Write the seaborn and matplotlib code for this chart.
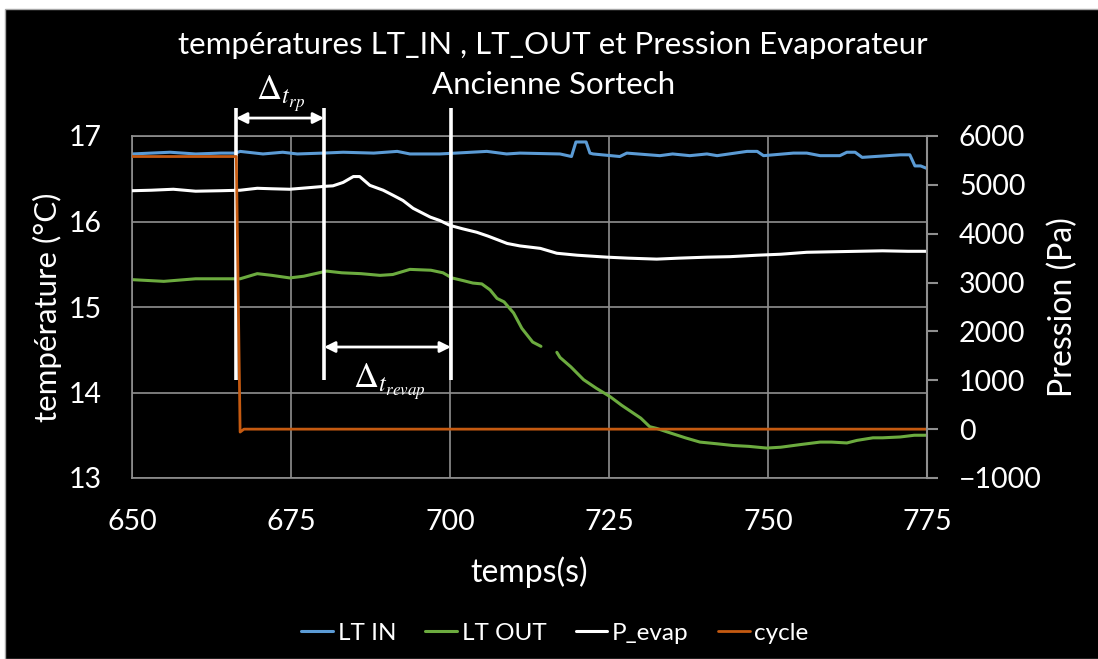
import matplotlib
matplotlib.use("Agg")
import numpy as np
import pandas as pd
import matplotlib.pyplot as plt
import seaborn as sns
from matplotlib.patches import Rectangle

# ---------------- data ----------------
t_lt_in = [650, 653, 656, 660, 664, 666.3, 667, 670.6, 673.7, 676, 680, 683.2, 688, 691.7,
           693.7, 698.4, 705.8, 708.9, 711, 717.3, 719.1, 719.8, 720.3, 721.4, 722.0, 722.5,
           726.7, 727.8, 733, 735, 737.7, 740.4, 742, 746.7, 748.3, 749.3, 754, 756.1, 758.2,
           761.3, 762.4, 763.7, 764.8, 770.8, 772.3, 773.1, 774, 775]
lt_in = [16.79, 16.80, 16.81, 16.79, 16.80, 16.80, 16.82, 16.79, 16.81, 16.79, 16.80, 16.81,
         16.80, 16.82, 16.79, 16.79, 16.82, 16.79, 16.80, 16.79, 16.76, 16.93, 16.93, 16.93,
         16.80, 16.79, 16.76, 16.80, 16.77, 16.79, 16.77, 16.79, 16.77, 16.82, 16.82, 16.77,
         16.80, 16.80, 16.77, 16.77, 16.81, 16.81, 16.75, 16.78, 16.78, 16.65, 16.65, 16.62]

t_lt_out_a = [650, 655, 660, 664, 667, 669.7, 672, 674.8, 677, 680.6, 683, 686, 689, 691,
              693.7, 697, 698.9, 700.3, 702, 703.6, 705, 706.3, 707.4, 708.5, 710, 711.3,
              713, 714.3]
lt_out_a = [15.32, 15.30, 15.33, 15.33, 15.33, 15.39, 15.37, 15.34, 15.36, 15.42, 15.40,
            15.39, 15.37, 15.38, 15.44, 15.43, 15.40, 15.34, 15.31, 15.28, 15.27, 15.20,
            15.10, 15.06, 14.93, 14.75, 14.59, 14.54]
t_lt_out_b = [716.8, 717.3, 719, 721, 723, 725.2, 727, 728.8, 730, 731.4, 732.5, 734.1, 737,
              739.3, 742, 744.5, 747, 749.8, 752, 755, 758.2, 760, 762.4, 764, 766.5, 768,
              770.8, 773, 775]
lt_out_b = [14.47, 14.41, 14.30, 14.15, 14.05, 13.95, 13.85, 13.76, 13.70, 13.60, 13.58,
            13.54, 13.47, 13.42, 13.40, 13.38, 13.37, 13.35, 13.36, 13.39, 13.42, 13.42,
            13.41, 13.44, 13.47, 13.47, 13.48, 13.50, 13.50]

t_p_evap = [650, 653, 656.5, 660, 664, 667, 669.7, 672, 674.8, 678.5, 680.3, 681.6, 683.2,
            684.8, 685.8, 687.4, 689.5, 691, 692.6, 694.2, 696.9, 698.4, 700, 702, 704.2,
            706, 709, 711, 714.2, 716.8, 720, 724.7, 728, 732.5, 736, 740.4, 744, 748.3,
            752, 756.1, 760, 764, 768, 772, 775]
p_evap = [4880, 4890, 4910, 4870, 4880, 4890, 4930, 4920, 4910, 4950, 4970, 4980, 5050,
          5170, 5170, 4990, 4890, 4790, 4680, 4520, 4340, 4270, 4170, 4100, 4030, 3950,
          3800, 3750, 3700, 3600, 3560, 3520, 3500, 3480, 3500, 3520, 3530, 3560, 3580,
          3620, 3630, 3640, 3650, 3640, 3640]

t_cycle = [650, 666.4, 667.0, 667.6, 775]
cycle = [5580, 5580, -60, 0, 0]

x_ticks = [650, 675, 700, 725, 750, 775]
y_ticks_temp = [13, 14, 15, 16, 17]
y_ticks_pres = [-1000, 0, 1000, 2000, 3000, 4000, 5000, 6000]

title_l1 = "températures LT_IN , LT_OUT et Pression Evaporateur"
title_l2 = "Ancienne Sortech"

# annotation markers (time instants)
t_marks = [666.35, 680.2, 700.15]

# ---------------- style ----------------
sns.set_theme(style="dark", rc={
    "axes.facecolor": "black", "figure.facecolor": "white",
    "text.color": "white", "axes.labelcolor": "white",
    "xtick.color": "white", "ytick.color": "white",
})
plt.rcParams['font.family'] = ['Lato', 'DejaVu Sans']
plt.rcParams['mathtext.fontset'] = 'stix'

C_IN, C_OUT, C_P, C_CY = "#5B9BD5", "#6CAB3F", "#FFFFFF", "#C55A11"
GRID = "#8f8f8f"

fig = plt.figure(figsize=(10.98, 6.59), dpi=100, facecolor="white")
fig.patches.append(Rectangle((5 / 1098, 0), 1, 1 - 9 / 659, transform=fig.transFigure,
                             facecolor="black", edgecolor="#a6a6a6", lw=1, zorder=-10))

ax = fig.add_axes([132 / 1098, 1 - 478 / 659, 795 / 1098, 342 / 659])
ax.set_facecolor("black")
ax2 = ax.twinx()
ax2.patch.set_visible(False)

df_in = pd.DataFrame({"t": t_lt_in, "v": lt_in})
df_oa = pd.DataFrame({"t": t_lt_out_a, "v": lt_out_a})
df_ob = pd.DataFrame({"t": t_lt_out_b, "v": lt_out_b})
df_p = pd.DataFrame({"t": t_p_evap, "v": p_evap})
df_c = pd.DataFrame({"t": t_cycle, "v": cycle})

sns.lineplot(data=df_in, x="t", y="v", ax=ax, color=C_IN, lw=2.2, label="LT IN")
sns.lineplot(data=df_oa, x="t", y="v", ax=ax, color=C_OUT, lw=2.2, label="LT OUT")
sns.lineplot(data=df_ob, x="t", y="v", ax=ax, color=C_OUT, lw=2.2)
sns.lineplot(data=df_p, x="t", y="v", ax=ax2, color=C_P, lw=2.2, label="P_evap")
sns.lineplot(data=df_c, x="t", y="v", ax=ax2, color=C_CY, lw=2.0, label="cycle")

for a in (ax, ax2):
    lg = a.get_legend()
    if lg is not None:
        lg.remove()

ax.set_xlim(650, 775)
ax.set_ylim(13, 17)
ax2.set_ylim(-1000, 6000)
ax.set_xticks(x_ticks)
ax.set_yticks(y_ticks_temp)
ax2.set_yticks(y_ticks_pres)

ax.grid(True, color=GRID, lw=1.2)
ax2.grid(False)
for s in ["left", "bottom", "top"]:
    ax.spines[s].set_visible(True)
    ax.spines[s].set_color(GRID)
    ax.spines[s].set_linewidth(1.2)
ax.spines["right"].set_visible(False)
for s in ["left", "bottom", "top"]:
    ax2.spines[s].set_visible(False)
ax2.spines["right"].set_visible(True)
ax2.spines["right"].set_color(GRID)
ax2.spines["right"].set_linewidth(1.5)

ax.tick_params(axis="x", length=0, pad=22, labelsize=20.5)
ax.tick_params(axis="y", length=0, pad=22, labelsize=20.5)
ax2.tick_params(axis="y", direction="out", length=8, width=1.5, color=GRID, pad=15,
                labelsize=20.5)

ax.set_xlabel("temps(s)", fontsize=23)
ax.xaxis.set_label_coords(0.5, -0.275)
ax.xaxis.label.set_va("center")
ax.set_ylabel("température (°C)", fontsize=22.5)
ax.yaxis.set_label_coords(-0.106, 0.5)
ax.yaxis.label.set_va("center")
ax2.set_ylabel("Pression (Pa)", fontsize=23, rotation=90)
ax2.yaxis.set_label_coords(1.171, 0.5)
ax2.yaxis.label.set_va("center")

fig.text(553 / 1098, 1 - 45 / 659, title_l1, ha="center", va="center", fontsize=22.5,
         color="white")
fig.text(554 / 1098, 1 - 85 / 659, title_l2, ha="center", va="center", fontsize=22.5,
         color="white")

# annotation lines and arrows
ax.vlines(t_marks, 14.146, 17.327, colors="white", lw=2.6, clip_on=False, zorder=5)
ax.annotate("", xy=(t_marks[0], 17.21), xytext=(t_marks[1], 17.21),
            arrowprops=dict(arrowstyle="<|-|>", color="white", lw=2, mutation_scale=16,
                            shrinkA=0, shrinkB=0), annotation_clip=False)
ax.annotate("", xy=(t_marks[1], 14.532), xytext=(t_marks[2], 14.532),
            arrowprops=dict(arrowstyle="<|-|>", color="white", lw=2, mutation_scale=16,
                            shrinkA=0, shrinkB=0), annotation_clip=False)
ax.text(673.4, 17.50, r"$\Delta_{t_{rp}}$", ha="center", va="center", fontsize=25,
        color="white", clip_on=False)
ax.text(690.4, 14.13, r"$\Delta_{t_{revap}}$", ha="center", va="center", fontsize=25,
        color="white", clip_on=False)

h1, l1 = ax.get_legend_handles_labels()
h2, l2 = ax2.get_legend_handles_labels()
fig.legend(h1 + h2, l1 + l2, loc="center", bbox_to_anchor=(555 / 1098, 1 - 633 / 659),
           ncol=4, frameon=False, fontsize=17.5, handlelength=1.3, handletextpad=0.2,
           columnspacing=1.2, labelcolor="white")

fig.savefig("out.png", dpi=100, facecolor=fig.get_facecolor())
